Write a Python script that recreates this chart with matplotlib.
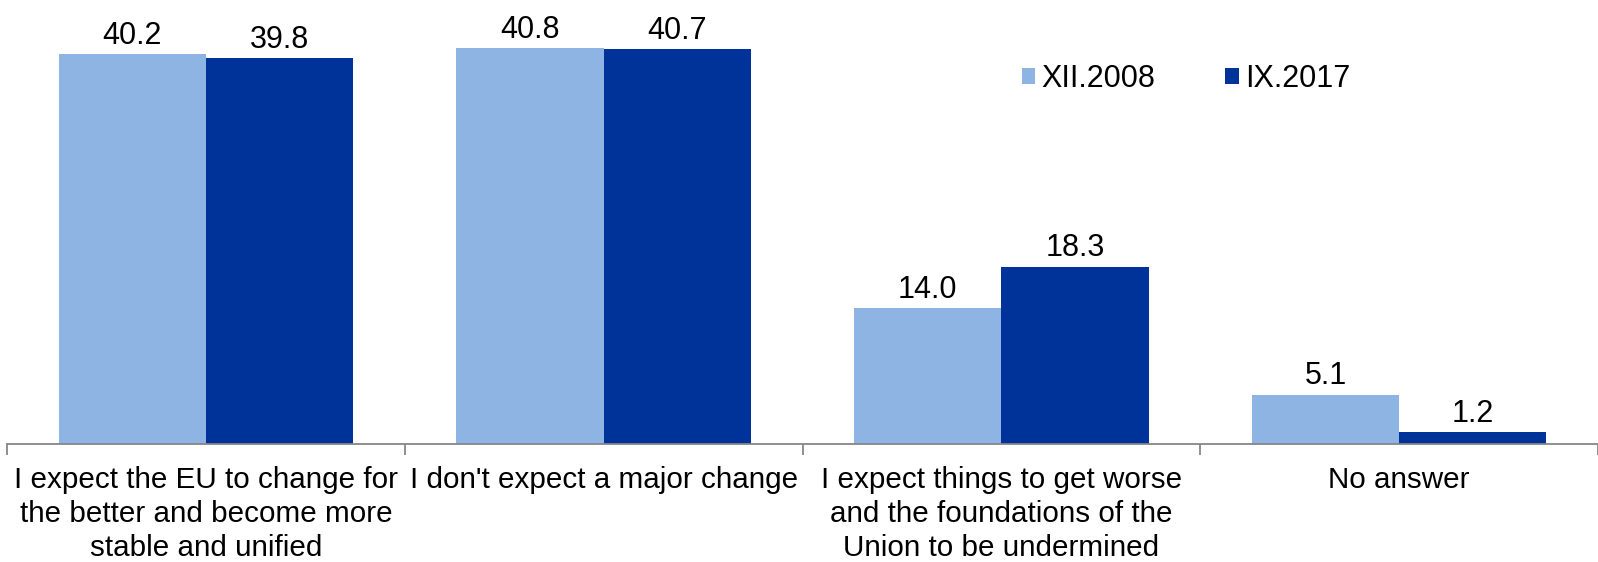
import numpy as np
import matplotlib.pyplot as plt
from matplotlib.ticker import FixedLocator

plt.rcParams['font.family'] = ['Liberation Sans', 'DejaVu Sans']

categories = ["I expect the EU to change for\nthe better and become more\nstable and unified",
              "I don't expect a major change",
              "I expect things to get worse\nand the foundations of the\nUnion to be undermined",
              "No answer"]
series_names = ["XII.2008", "IX.2017"]
vals_2008 = [40.2, 40.8, 14.0, 5.1]
vals_2017 = [39.8, 40.7, 18.3, 1.2]
colors = ["#8EB4E3", "#003399"]

fig = plt.figure(figsize=(15.98, 5.62), dpi=100)
ax = fig.add_axes([7/1598, (562-444)/562, 1591/1598, 444/562])

x = np.arange(len(categories))
w = 0.37
b1 = ax.bar(x - w/2, vals_2008, w, color=colors[0], label=series_names[0])
b2 = ax.bar(x + w/2, vals_2017, w, color=colors[1], label=series_names[1])

# value labels above each bar
for bars, vals in ((b1, vals_2008), (b2, vals_2017)):
    for rect, v in zip(bars, vals):
        ax.annotate(f"{v:.1f}", (rect.get_x() + rect.get_width()/2, v),
                    xytext=(0, 2.5), textcoords="offset points",
                    ha="center", va="bottom", fontsize=22)

ax.set_xlim(-0.5, len(categories) - 0.5)
ax.set_ylim(0, 45.8)

ax.set_xticks(x)
ax.set_xticklabels(categories, fontsize=21.3, linespacing=1.29)
ax.tick_params(axis="x", which="major", length=0, pad=15.5)
# ticks sit between the categories
ax.xaxis.set_minor_locator(FixedLocator(np.arange(-0.5, len(categories), 1.0)))
ax.tick_params(axis="x", which="minor", length=8, color="#868686", width=1.3)
ax.set_yticks([])

for s in ["top", "right", "left"]:
    ax.spines[s].set_visible(False)
ax.spines["bottom"].set_color("#868686")
ax.spines["bottom"].set_linewidth(1.3)

ax.legend(loc="center left", bbox_to_anchor=(0.638, 0.823), ncol=2, frameon=False,
          fontsize=22, handlelength=0.43, handleheight=0.43, handletextpad=0.2,
          columnspacing=2.3, borderpad=0, borderaxespad=0)

fig.savefig("out.png", dpi=100)
